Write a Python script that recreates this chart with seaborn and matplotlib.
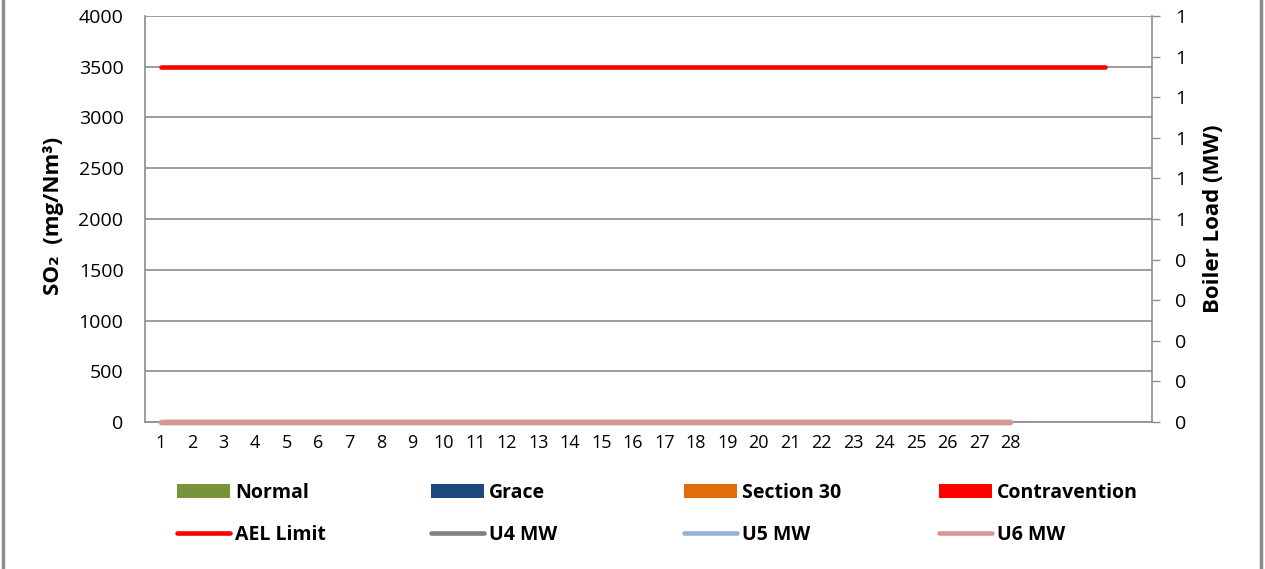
import numpy as np
import pandas as pd
import matplotlib
matplotlib.use("Agg")
import matplotlib.pyplot as plt
import seaborn as sns
from matplotlib.patches import Patch
from matplotlib.lines import Line2D

# categories on the x axis (32 slots, only 1-28 labelled)
day_labels = ['1', '2', '3', '4', '5', '6', '7', '8', '9', '10', '11', '12', '13', '14',
              '15', '16', '17', '18', '19', '20', '21', '22', '23', '24', '25', '26', '27', '28',
              '', '', '', '']

# SO2 emission status bars (nothing recorded this month)
normal = [0, 0, 0, 0, 0, 0, 0, 0, 0, 0, 0, 0, 0, 0, 0, 0, 0, 0, 0, 0, 0, 0, 0, 0, 0, 0, 0, 0]
grace = [0, 0, 0, 0, 0, 0, 0, 0, 0, 0, 0, 0, 0, 0, 0, 0, 0, 0, 0, 0, 0, 0, 0, 0, 0, 0, 0, 0]
section30 = [0, 0, 0, 0, 0, 0, 0, 0, 0, 0, 0, 0, 0, 0, 0, 0, 0, 0, 0, 0, 0, 0, 0, 0, 0, 0, 0, 0]
contravention = [0, 0, 0, 0, 0, 0, 0, 0, 0, 0, 0, 0, 0, 0, 0, 0, 0, 0, 0, 0, 0, 0, 0, 0, 0, 0, 0, 0]

# AEL limit (31 days)
ael_limit = [3500, 3500, 3500, 3500, 3500, 3500, 3500, 3500, 3500, 3500, 3500, 3500, 3500, 3500,
             3500, 3500, 3500, 3500, 3500, 3500, 3500, 3500, 3500, 3500, 3500, 3500, 3500, 3500,
             3500, 3500, 3500]

# boiler loads (28 days)
u4_mw = [0, 0, 0, 0, 0, 0, 0, 0, 0, 0, 0, 0, 0, 0, 0, 0, 0, 0, 0, 0, 0, 0, 0, 0, 0, 0, 0, 0]
u5_mw = [0, 0, 0, 0, 0, 0, 0, 0, 0, 0, 0, 0, 0, 0, 0, 0, 0, 0, 0, 0, 0, 0, 0, 0, 0, 0, 0, 0]
u6_mw = [0, 0, 0, 0, 0, 0, 0, 0, 0, 0, 0, 0, 0, 0, 0, 0, 0, 0, 0, 0, 0, 0, 0, 0, 0, 0, 0, 0]

left_ticks = [0, 500, 1000, 1500, 2000, 2500, 3000, 3500, 4000]
right_ticks = [0, 0.1, 0.2, 0.3, 0.4, 0.5, 0.6, 0.7, 0.8, 0.9, 1.0]
right_labels = ['0', '0', '0', '0', '0', '1', '1', '1', '1', '1', '1']

colors = {
    'Normal': '#77933C', 'Grace': '#1F497D', 'Section 30': '#E36C09', 'Contravention': '#FF0000',
    'AEL Limit': '#FF0000', 'U4 MW': '#808080', 'U5 MW': '#95B3D7', 'U6 MW': '#D99694',
}

sns.set_theme(style='white')
plt.rcParams['font.family'] = ['Open Sans', 'DejaVu Sans']
plt.rcParams['text.color'] = 'black'
plt.rcParams['axes.labelcolor'] = 'black'
plt.rcParams['xtick.labelcolor'] = 'black'
plt.rcParams['ytick.labelcolor'] = 'black'
grid_col = '#8C8C8C'

fig = plt.figure(figsize=(12.65, 5.69), dpi=100)
ax = fig.add_axes([0.1146, 0.2583, 0.7961, 0.7136])

idx = np.arange(len(normal))
for name, vals in [('Normal', normal), ('Grace', grace), ('Section 30', section30),
                   ('Contravention', contravention)]:
    ax.bar(idx, vals, width=0.6, color=colors[name], linewidth=0)

ael_df = pd.DataFrame({'x': np.arange(len(ael_limit)), 'y': ael_limit})
sns.lineplot(data=ael_df, x='x', y='y', ax=ax, color=colors['AEL Limit'], linewidth=3.3,
             solid_capstyle='round', zorder=3)

ax.set_xlim(-0.5, len(day_labels) - 0.5)
ax.set_ylim(0, 4000)
ax.set_yticks(left_ticks)
ax.set_xticks(np.arange(len(day_labels)))
ax.set_xticklabels(day_labels, fontsize=13)
ax.tick_params(axis='y', length=0, pad=15.5, labelsize=14, labelcolor='black')
ax.tick_params(axis='x', length=3.5, width=1, color=grid_col, direction='out', pad=5,
               labelcolor='black')
ax.yaxis.grid(True, color=grid_col, linewidth=1.2)
ax.xaxis.grid(False)
ax.set_axisbelow(True)
for s in ['left', 'bottom']:
    ax.spines[s].set_color(grid_col)
    ax.spines[s].set_linewidth(1.2)
ax.spines['top'].set_visible(False)
ax.spines['right'].set_visible(False)
ax.set_xlabel('')
ax.set_ylabel('SO₂  (mg/Nm³)', fontsize=16, fontweight='bold', va='center')
ax.yaxis.set_label_coords(-0.0904, 0.507)

ax2 = ax.twinx()
mw_df = pd.DataFrame({'x': np.arange(len(u6_mw)), 'U4 MW': u4_mw, 'U5 MW': u5_mw, 'U6 MW': u6_mw})
for name in ['U4 MW', 'U5 MW', 'U6 MW']:
    sns.lineplot(data=mw_df, x='x', y=name, ax=ax2, color=colors[name], linewidth=3.8,
                 solid_capstyle='round', clip_on=False, zorder=4)
ax2.set_ylim(0, 1)
ax2.set_yticks(right_ticks)
ax2.set_yticklabels(right_labels)
ax2.tick_params(axis='y', length=5.8, width=1, color=grid_col, direction='out', pad=11,
                labelsize=14, labelcolor='black')
for s in ['left', 'top', 'bottom']:
    ax2.spines[s].set_visible(False)
ax2.spines['right'].set_color(grid_col)
ax2.spines['right'].set_linewidth(1.2)
ax2.grid(False)
ax2.set_xlabel('')
ax2.set_ylabel('Boiler Load (MW)', fontsize=16, fontweight='bold', va='center')
ax2.yaxis.set_label_coords(1.0606, 0.5)

# legend: four columns, bars on top row, lines on the bottom row
columns = [('Normal', 'AEL Limit'), ('Grace', 'U4 MW'), ('Section 30', 'U5 MW'),
           ('Contravention', 'U6 MW')]
col_x = [177, 431, 684, 939]
for (bar_name, line_name), px in zip(columns, col_x):
    handles = [Patch(facecolor=colors[bar_name], edgecolor='none', label=bar_name),
               Line2D([0], [0], color=colors[line_name], linewidth=3.3,
                      solid_capstyle='round', label=line_name)]
    fig.legend(handles=handles, loc='upper left', bbox_to_anchor=(px / 1265, 1 - 483 / 569),
               frameon=False, borderpad=0, borderaxespad=0, handlelength=2.75,
               handleheight=0.72, handletextpad=0.25, labelspacing=1.15,
               prop={'size': 14, 'weight': 'bold'}, labelcolor='black')

# outer frame edges
for fx in [3 / 1265, 1261 / 1265]:
    fig.add_artist(Line2D([fx, fx], [0, 1], transform=fig.transFigure, color=grid_col,
                          linewidth=2.5))

fig.savefig('out.png', dpi=100)
